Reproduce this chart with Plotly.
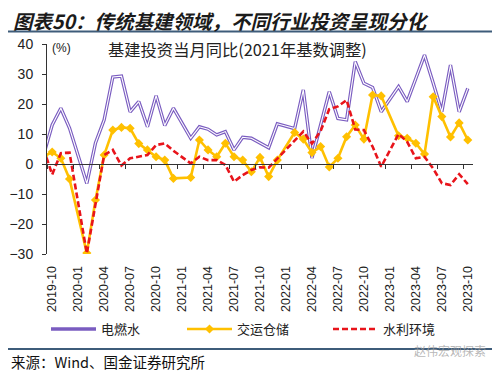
import plotly.graph_objects as go

months = ["2019-09", "2019-10", "2019-11", "2019-12",
          "2020-01", "2020-02", "2020-03", "2020-04", "2020-05", "2020-06",
          "2020-07", "2020-08", "2020-09", "2020-10", "2020-11", "2020-12",
          "2021-01", "2021-02", "2021-03", "2021-04", "2021-05", "2021-06",
          "2021-07", "2021-08", "2021-09", "2021-10", "2021-11", "2021-12",
          "2022-01", "2022-02", "2022-03", "2022-04", "2022-05", "2022-06",
          "2022-07", "2022-08", "2022-09", "2022-10", "2022-11", "2022-12",
          "2023-01", "2023-02", "2023-03", "2023-04", "2023-05", "2023-06",
          "2023-07", "2023-08", "2023-09", "2023-10"]

# 电燃水
elec = [3, 13, 18.6, 12,
        None, -6.5, 7, 14.7, 29, 29.3, 17.4, 20.8, 12.4, 22.8, 12.8, 18.6,
        None, 8.6, 12.4, 11.6, 9.7, 10.8, 4.7, 8.9, 8.6, 6.9, 5.4, 13.4,
        None, 11.8, 24.7, 2, 13, 24.1, 15.2, 14.7, 34.1, 26.9, 25.5, 17.4,
        None, 25.8, 20.8, 28.5, 36.3, 27, 17.4, 33, 17.4, 25.2]
# 交运仓储
trans = [2.5, 4, 1.9, -5,
         None, -29.7, -12, 3, 11.3, 12.2, 11.9, 6.8, 4.7, 2.4, 1.3, -4.8,
         None, -4.5, 8, 4.7, 2.4, 6.9, 2.4, 1.3, -2.6, 2.2, -4.2, 1.3,
         None, 10.5, 8.3, 3.8, 5.8, -1, 1.9, 9.1, 13, 8.3, 23, 22.7,
         None, 9.4, 8.6, 6.9, 3.3, 22.4, 15.8, 9, 13.7, 8]
# 水利环境
water = [5, -3.5, 3.6, 3.8,
         None, -29.8, -13, 3, 4.7, -0.5, 1.9, 2.4, 3, 6.3, 6.9, 4.4,
         None, 0.2, 2.4, 1.3, 1.3, -0.3, -5.9, -3.7, -2, -1.1, -1.2, 1.8,
         None, 7.5, 10.8, 6.8, 11, 18.3, 19.2, 21.3, 11.5, 11.3, 5.8, -0.9,
         None, 10, 7.4, 1.9, 2.4, -1.5, -6.4, -7, -3.4, -6.7]

tick_labels = ["2019-10", "2020-01", "2020-04", "2020-07", "2020-10",
               "2021-01", "2021-04", "2021-07", "2021-10", "2022-01",
               "2022-04", "2022-07", "2022-10", "2023-01", "2023-04",
               "2023-07", "2023-10"]
y_ticks = [-30, -20, -10, 0, 10, 20, 30, 40]

series_names = ["电燃水", "交运仓储", "水利环境"]

xpos = list(range(len(months)))
tickpos = [months.index(t) for t in tick_labels]
between = [p - 0.5 for p in tickpos]

# page body has an 8px default margin; figure is sized to fill the rest
OFF = 8
W, H = 500 - OFF, 373 - OFF
L, R, T, B = 47 - OFF, 27, 44 - OFF, 119
pw, ph = W - L - R, H - T - B
XR = [0.4, 49.6]
YR = [-30, 40]

def px(rx):
    return (rx - OFF - L) / pw

def py(ry):
    return (H - B - (ry - OFF)) / ph

def cx(rx):
    return (rx - OFF) / W

def cy(ry):
    return 1 - (ry - OFF) / H

NUM = "Liberation Sans, Arial, Noto Sans CJK SC"
CJK = "Noto Sans CJK SC, Liberation Sans"

fig = go.Figure()

# purple double line: outer purple + inner white
fig.add_trace(go.Scatter(
    x=xpos, y=elec, name=series_names[0], mode="lines", connectgaps=True,
    line=dict(color="#7A5CC0", width=3.4), legend="legend", hoverinfo="skip"))
fig.add_trace(go.Scatter(
    x=xpos, y=elec, name=series_names[0], mode="lines", connectgaps=True,
    line=dict(color="white", width=1.1), showlegend=False, hoverinfo="skip"))
fig.add_trace(go.Scatter(
    x=xpos, y=trans, name=series_names[1], mode="lines+markers", connectgaps=True,
    line=dict(color="#FFC000", width=2.6),
    marker=dict(symbol="diamond", size=7, color="#FFC000"),
    legend="legend2", hoverinfo="skip"))
fig.add_trace(go.Scatter(
    x=xpos, y=water, name=series_names[2], mode="lines", connectgaps=True,
    line=dict(color="#E8141B", width=2.6, dash="6px,3px"),
    xaxis="x2", legend="legend3", hoverinfo="skip"))

zero_pos = (0 - YR[0]) / (YR[1] - YR[0])

leg_common = dict(orientation="h", xref="container", yref="container",
                  yanchor="middle", xanchor="left", bgcolor="rgba(0,0,0,0)",
                  font=dict(family=CJK, size=13, color="#222"), itemwidth=45)
leg_y = cy(329)

fig.update_layout(
    width=W, height=H,
    margin=dict(l=L, r=R, t=T, b=B, pad=0, autoexpand=False),
    paper_bgcolor="white", plot_bgcolor="white",
    showlegend=True,
    legend=dict(leg_common, x=cx(46), y=leg_y),
    legend2=dict(leg_common, x=cx(182), y=leg_y),
    legend3=dict(leg_common, x=cx(328), y=leg_y),
    xaxis=dict(range=XR, tickmode="array", tickvals=tickpos, ticktext=tick_labels,
               tickangle=-90, ticks="outside", ticklen=6, tickcolor="rgba(0,0,0,0)",
               showline=False, showgrid=False, zeroline=False, automargin=False,
               tickfont=dict(family=NUM, size=12.5, color="#222")),
    xaxis2=dict(range=XR, overlaying="x", anchor="free", position=zero_pos,
                tickmode="array", tickvals=between, ticks="outside", ticklen=4,
                tickcolor="#333", showticklabels=False, showline=True,
                linecolor="#333", linewidth=1, showgrid=False, zeroline=False,
                automargin=False),
    yaxis=dict(range=YR, tickmode="array", tickvals=y_ticks, ticks="outside",
               ticklen=4, tickcolor="#333", showline=True, linecolor="#333",
               linewidth=1, showgrid=False, zeroline=False, ticklabelstandoff=6,
               automargin=False,
               tickfont=dict(family=NUM, size=14, color="#222")),
)

annotations = [
    dict(text="<b><i>图表50：传统基建领域，不同行业投资呈现分化</i></b>",
         x=px(11), y=py(21), xanchor="left", yanchor="middle",
         font=dict(family=CJK, size=19.5, color="#1b1b1b")),
    dict(text="基建投资当月同比(2021年基数调整)",
         x=px(106), y=py(49), xanchor="left", yanchor="middle",
         font=dict(family=CJK, size=16.3, color="#222")),
    dict(text="(%)", x=px(50), y=py(48), xanchor="left", yanchor="middle",
         font=dict(family=NUM, size=12, color="#222")),
    dict(text="来源：Wind、国金证券研究所", x=px(9), y=py(361),
         xanchor="left", yanchor="middle",
         font=dict(family=CJK, size=14.5, color="#111")),
    dict(text="赵伟宏观探索", x=px(488), y=py(350), xanchor="right", yanchor="middle",
         font=dict(family=CJK, size=12, color="rgba(160,160,160,0.75)")),
]
for a in annotations:
    a.update(xref="paper", yref="paper", showarrow=False)
fig.update_layout(annotations=annotations)

fig.update_layout(shapes=[
    dict(type="line", xref="paper", yref="paper", x0=px(0), x1=px(500),
         y0=py(31.5), y1=py(31.5), line=dict(color="#3E5C7A", width=2)),
    dict(type="line", xref="paper", yref="paper", x0=px(0), x1=px(500),
         y0=py(349), y1=py(349), line=dict(color="#3E5C7A", width=2)),
])

fig.write_html("out.html")
